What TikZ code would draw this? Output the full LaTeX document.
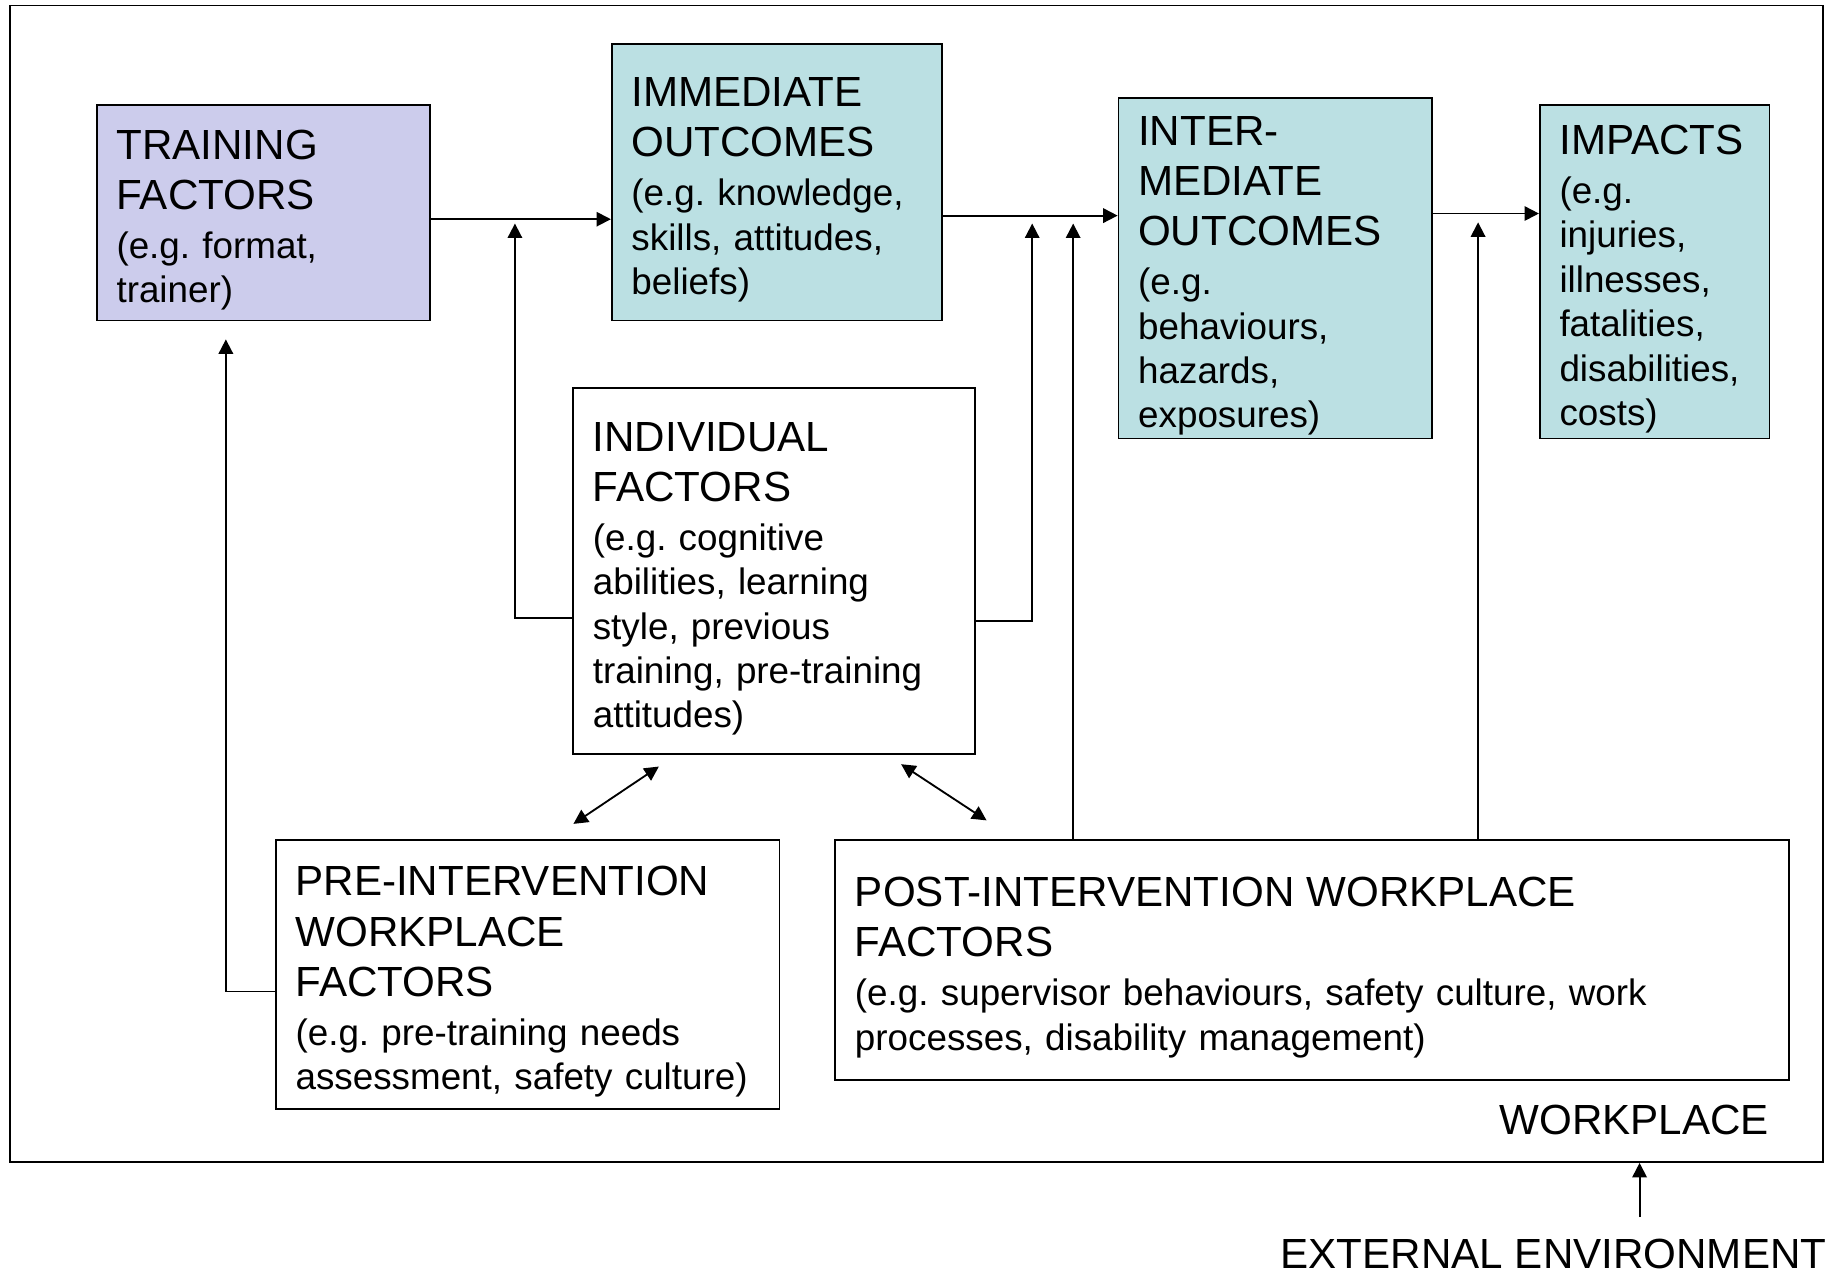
\documentclass[tikz,border=0pt]{standalone}
\usepackage{fontspec}
\setmainfont{Liberation Sans}
\usetikzlibrary{arrows.meta}

\definecolor{trainfill}{RGB}{204,204,236}
\definecolor{outfill}{RGB}{187,224,227}
\newcommand\hdfont{\fontsize{20.5pt}{24.4pt}\selectfont}
\newcommand\hd{\hdfont\rule{0pt}{21.5pt}}
\newcommand\eg{\fontsize{17.9pt}{21.6pt}\selectfont}

\tikzset{
  box/.style={draw, line width=0.8pt, anchor=north west, align=left,
    inner xsep=9.6pt, inner ysep=0pt, font=\eg,
    execute at begin node={\frenchspacing\hyphenpenalty=10000 \exhyphenpenalty=10000 }},
  arr/.style={line width=0.9pt, -{Triangle[length=7pt,width=7pt]}},
  darr/.style={line width=0.9pt, {Triangle[length=7pt,width=7pt]}-{Triangle[length=7pt,width=7pt]}},
}

\begin{document}
\begin{tikzpicture}[x=0.02cm, y=-0.02cm]
    \useasboundingbox (0,0) rectangle (1568,1089);
    % workplace frame
    \node[draw, line width=0.8pt, anchor=north west, inner sep=0pt,
          minimum width=881.7pt, minimum height=562.5pt] (wp) at (8,4) {};
    \node[font=\hdfont, anchor=base east, inner sep=0pt] (wplabel) at (1512,969) {WORKPLACE};
    \node[font=\hdfont, anchor=base east, inner sep=0pt] (ext) at (1561,1084) {EXTERNAL ENVIRONMENT};

    % boxes
    \node[box, fill=trainfill, text width=143.0pt, minimum height=104.9pt] (train) at (82,89)
        {\hd TRAINING\\FACTORS\\[2.3pt]\eg(e.g. format,\\trainer)};
    \node[box, fill=outfill, text width=141.3pt, minimum height=134.4pt] (imm) at (522,37)
        {\hd IMMEDIATE\\OUTCOMES\\[2.3pt]\eg(e.g. knowledge,\\skills, attitudes,\\beliefs)};
    \node[box, fill=outfill, text width=133.3pt, minimum height=165.6pt] (inter) at (955,83)
        {\hd INTER-\\MEDIATE\\OUTCOMES\\[2.3pt]\eg(e.g.\\behaviours,\\hazards,\\exposures)};
    \node[box, fill=outfill, text width=92.5pt, minimum height=162.2pt] (imp) at (1315,89)
        {\hd IMPACTS\\[2.3pt]\eg(e.g.\\injuries,\\illnesses,\\fatalities,\\disabilities,\\costs)};
    \node[box, fill=white, text width=176.4pt, minimum height=178.0pt] (ind) at (489,331)
        {\hd INDIVIDUAL\\FACTORS\\[2.3pt]\eg(e.g. cognitive\\abilities, learning\\style, previous\\training, pre-training\\attitudes)};
    \node[box, fill=white, text width=225.7pt, minimum height=131.0pt] (pre) at (235,717)
        {\hd PRE-INTERVENTION\\WORKPLACE\\FACTORS\\[2.3pt]\eg(e.g. pre-training needs\\assessment, safety culture)};
    \node[box, fill=white, text width=444.6pt, minimum height=116.8pt] (post) at (713,717)
        {\hd POST-INTERVENTION WORKPLACE\\FACTORS\\[2.3pt]\eg(e.g. supervisor behaviours, safety culture, work\\processes, disability management)};

    % main chain
    \coordinate (t1) at ([yshift=-3.1pt]train.east);
    \coordinate (t2) at ([yshift=-16.2pt]imm.east);
    \coordinate (t3) at ([yshift=26.6pt]inter.east);
    \draw[arr] (t1) -- (t1 -| imm.west);
    \draw[arr] (t2) -- (t2 -| inter.west);
    \draw[arr] (t3) -- (t3 -| imp.west);

    % feedback arrows
    \coordinate (fbA) at (440,191);
    \coordinate (fbB) at (882,191);
    \coordinate (fbC) at (917,191);
    \coordinate (fbD) at (1263,190);
    \coordinate (fbE) at (193,290);
    \draw[arr] ([yshift=-22.7pt]ind.west) -| (fbA);
    \draw[arr] ([yshift=-24.4pt]ind.east) -| (fbB);
    \draw[arr] (post.north -| fbC) -- (fbC);
    \draw[arr] (post.north -| fbD) -- (fbD);
    \draw[arr] ([yshift=-8.2pt]pre.west) -| (fbE);

    % two-way links
    \coordinate (pa) at (490,704);
    \coordinate (pb) at (563,655);
    \coordinate (qa) at (770,653);
    \coordinate (qb) at (843,701);
    \draw[darr] (pa) -- (pb);
    \draw[darr] (qa) -- (qb);

    % external environment
    \coordinate (exb) at (1401,1040);
    \draw[arr] (exb) -- (exb |- wp.south);
\end{tikzpicture}
\end{document}
